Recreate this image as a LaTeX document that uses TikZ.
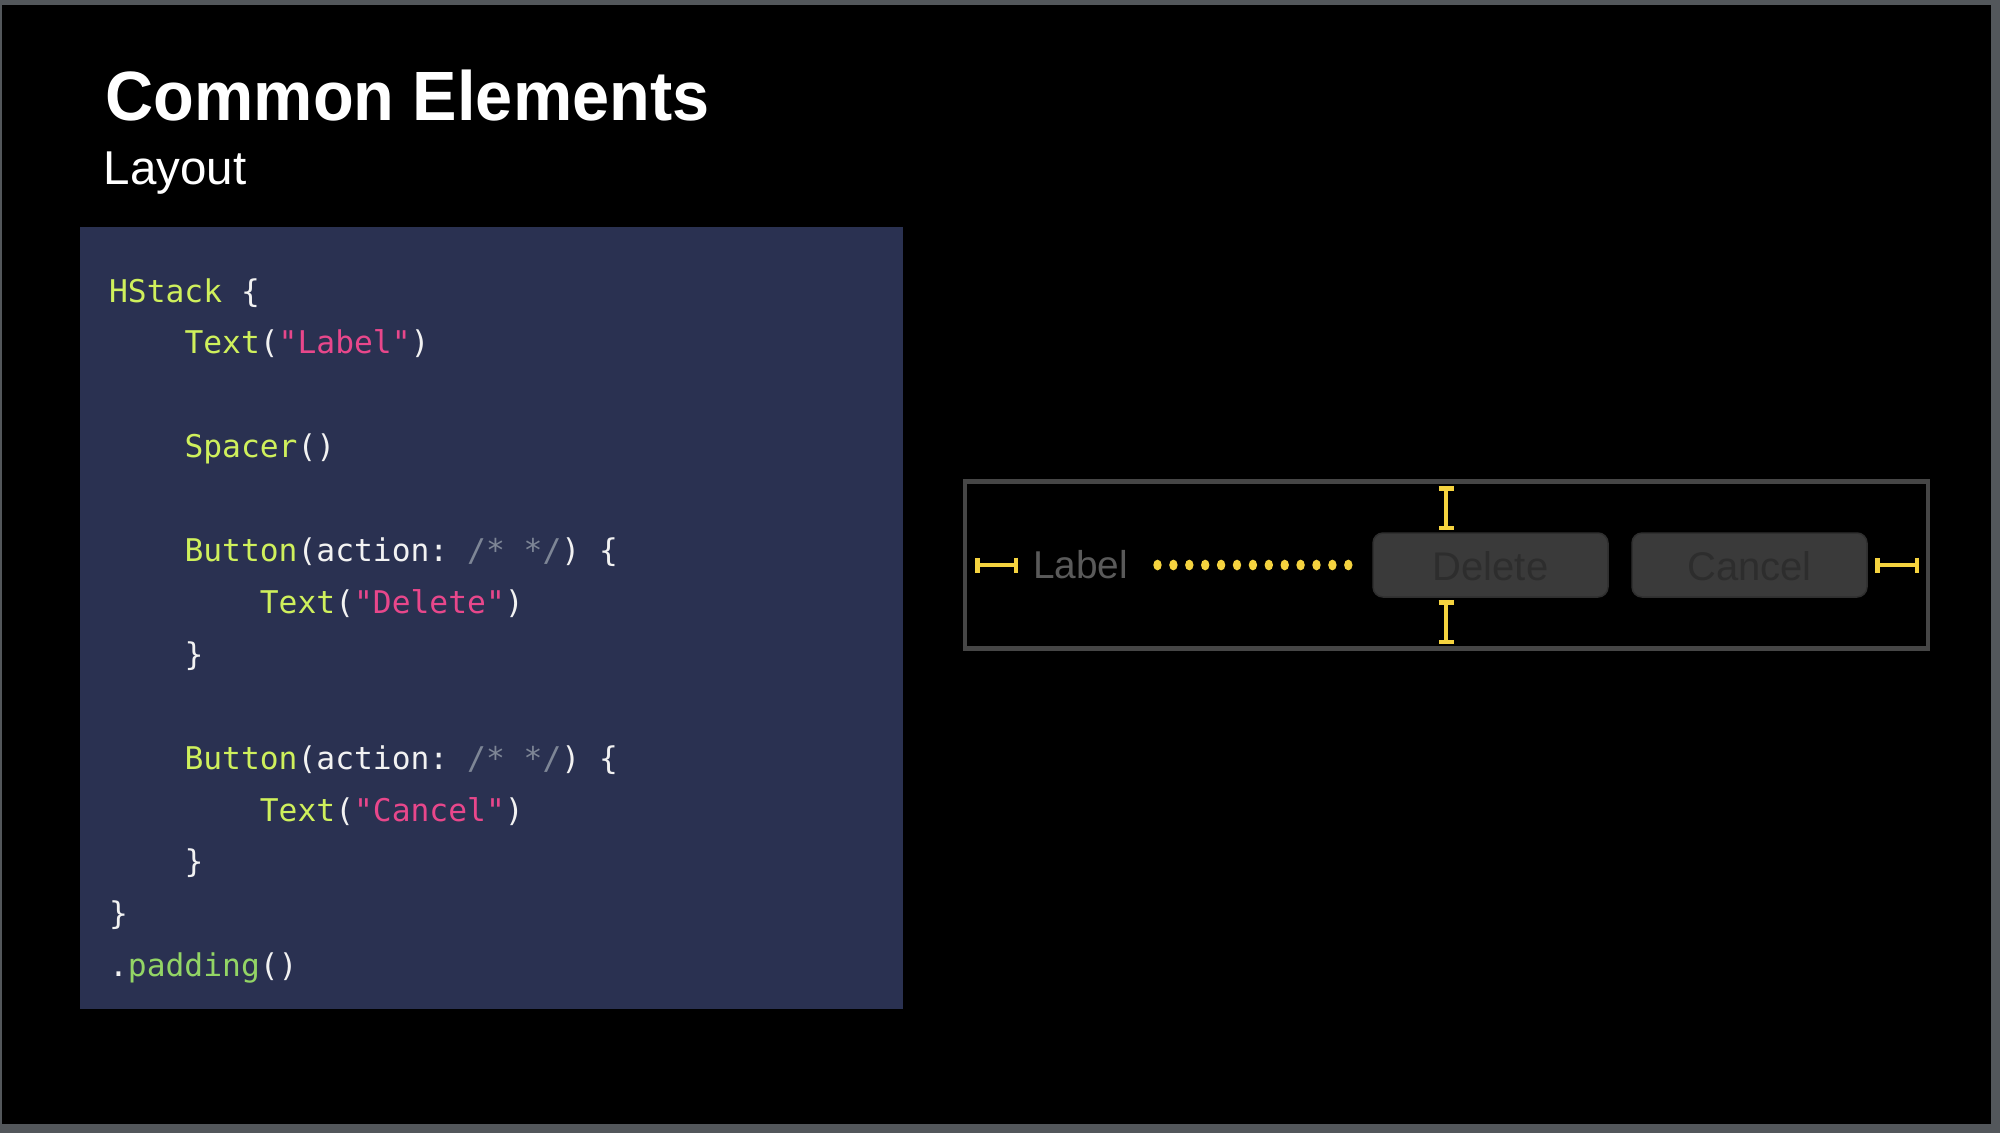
\documentclass[tikz,border=0pt]{standalone}
\usepackage{fontspec}
\setmainfont{Liberation Sans}
\setmonofont{DejaVu Sans Mono}
\usetikzlibrary{arrows.meta}
\definecolor{framegray}{HTML}{53575B}
\definecolor{panelblue}{HTML}{2A3151}
\definecolor{kwlime}{HTML}{CFF05C}
\definecolor{strpink}{HTML}{E8478B}
\definecolor{modgreen}{HTML}{93D565}
\definecolor{cmtgray}{HTML}{7E8696}
\definecolor{codewhite}{HTML}{F2F2F2}
\definecolor{boxgray}{HTML}{464646}
\definecolor{lblgray}{HTML}{5A5A5A}
\definecolor{btnfill}{HTML}{3A3A3A}
\definecolor{btnedge}{HTML}{2F2F2F}
\definecolor{btntext}{HTML}{2D2D2D}
\definecolor{markyellow}{HTML}{F5D33F}
\newcommand\ckw[1]{\textcolor{kwlime}{#1}}
\newcommand\cstr[1]{\textcolor{strpink}{#1}}
\newcommand\ccmt[1]{\textcolor{cmtgray}{#1}}
\newcommand\cmod[1]{\textcolor{modgreen}{#1}}
\tikzset{
  codeline/.style={anchor=base west, inner sep=0pt, text=codewhite,
    font=\ttfamily\fontsize{31.3}{38}\selectfont},
  btnbox/.style={draw=btnedge, line width=1.5pt, fill=btnfill, rounded corners=10pt},
  btnlabel/.style={anchor=base, inner sep=0pt, text=btntext,
    font=\fontsize{40}{48}\selectfont},
  hmarker/.style={draw=markyellow, line width=4pt,
    {Bar[width=15pt,line width=4.5pt]}-{Bar[width=15pt,line width=4.5pt]}},
  spacerdot/.style={fill=markyellow, draw=none},
}
\begin{document}
\begin{tikzpicture}[x=1pt,y=-1pt]
\useasboundingbox (0,0) rectangle (2000,1133);
\fill[framegray] (0,0) rectangle (2000,1133);
\fill[black] (2,5) rectangle (1991,1124);
% titles
\node[anchor=base west, inner sep=0pt, text=white, font=\bfseries\fontsize{69.8}{80}\selectfont]
  (title) at (105.5,120.7) {\scalebox{0.955}[1]{Common Elements}};
\node[anchor=base west, inner sep=0pt, text=white, font=\fontsize{47.5}{56}\selectfont]
  (subtitle) at (103.5,184.3) {Layout};
% code panel
\fill[panelblue] (80,227) rectangle (903,1009);
\def\cx{108.9}
\def\ca{18.85}
\node[codeline] (l0) at (\cx,302) {\ckw{HStack} \{};
\node[codeline] (l1) at (\cx+4*\ca,353.9) {\ckw{Text}(\cstr{"Label"})};
\node[codeline] (l3) at (\cx+4*\ca,457.7) {\ckw{Spacer}()};
\node[codeline] (l5) at (\cx+4*\ca,561.5) {\ckw{Button}(action: \ccmt{/* */}) \{};
\node[codeline] (l6) at (\cx+8*\ca,613.4) {\ckw{Text}(\cstr{"Delete"})};
\node[codeline] (l7) at (\cx+4*\ca,665.3) {\}};
\node[codeline] (l9) at (\cx+4*\ca,769.1) {\ckw{Button}(action: \ccmt{/* */}) \{};
\node[codeline] (l10) at (\cx+8*\ca,821.0) {\ckw{Text}(\cstr{"Cancel"})};
\node[codeline] (l11) at (\cx+4*\ca,872.9) {\}};
\node[codeline] (l12) at (\cx,924.8) {\}};
\node[codeline] (l13) at (\cx,976.7) {.\cmod{padding}()};
% layout preview
\draw[boxgray, line width=4.5pt] (965,481.5) rectangle (1928,648.5);
\node[anchor=base west, inner sep=0pt, text=lblgray, font=\fontsize{38.8}{46}\selectfont]
  (label) at (1033,578) {Label};
\draw[btnbox] (1373,533) rectangle (1608,597);
\node[btnlabel] (delete) at (1490.5,580) {Delete};
\draw[btnbox] (1632,533) rectangle (1867,597);
\node[btnlabel] (cancel) at (1749.5,580) {Cancel};
% spacer dots
\foreach \i in {0,...,12}{
  \fill[spacerdot] (1157.5+15.9*\i,565) ellipse [x radius=4.2pt, y radius=5.4pt];
}
% padding markers
\coordinate (lpA) at (975,565);
\coordinate (lpB) at (1018,565);
\coordinate (rpA) at (1875,565);
\coordinate (rpB) at (1919,565);
\coordinate (tpA) at (1446,486);
\coordinate (tpB) at (1446,530);
\coordinate (bpA) at (1446,600);
\coordinate (bpB) at (1446,644);
\draw[hmarker] (lpA) -- (lpB);
\draw[hmarker] (rpA) -- (rpB);
\draw[hmarker] (tpA) -- (tpB);
\draw[hmarker] (bpA) -- (bpB);
\end{tikzpicture}
\end{document}
